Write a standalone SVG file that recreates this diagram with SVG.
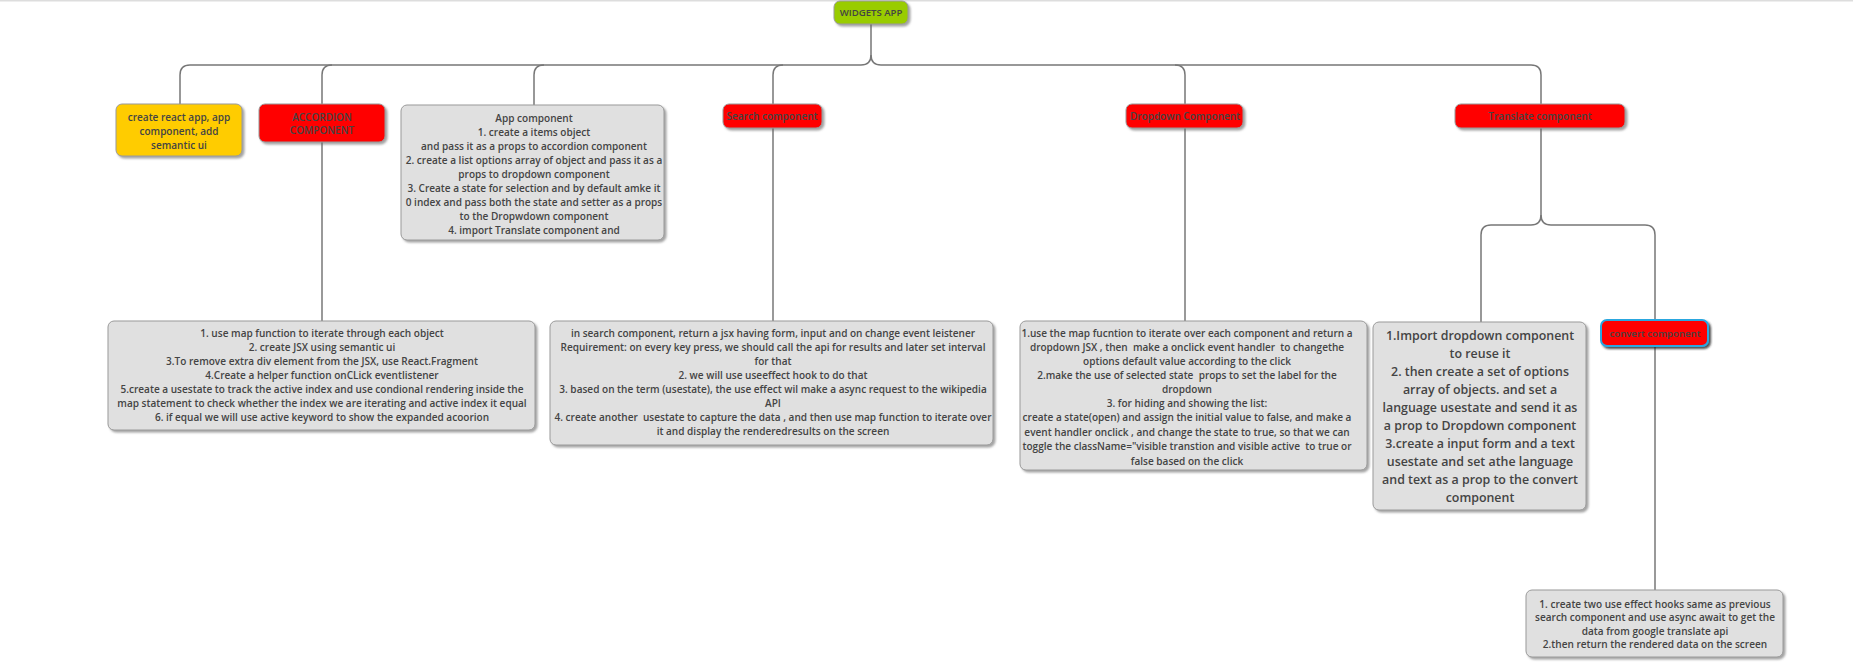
<svg xmlns="http://www.w3.org/2000/svg" width="1853" height="665" viewBox="0 0 1853 665">
<defs>
<filter id="sh" x="-10%" y="-10%" width="130%" height="140%">
<feDropShadow dx="2" dy="2" stdDeviation="1.2" flood-color="#666" flood-opacity="0.6"/>
</filter>
<filter id="sh2" x="-10%" y="-20%" width="130%" height="160%">
<feDropShadow dx="2" dy="2" stdDeviation="1" flood-color="#222" flood-opacity="0.8"/>
</filter>
</defs>
<style>
text{font-family:"Open Sans","Noto Sans","Liberation Sans",sans-serif;font-weight:600;fill:#444;text-anchor:middle;white-space:pre}
.t{font-size:9.6px}
.s{font-size:10.05px}
.m{font-size:10px}
.l{font-size:12.4px}
.box{stroke:#9a9a9a;stroke-width:1}
.g{fill:#e0e0e0}
.r{fill:#ff0000}
.conn path{fill:none;stroke:#777;stroke-width:1.5}
</style>
<rect x="0" y="0" width="1853" height="1.5" fill="#ddd"/>
<g class="conn">
<path d="M871,24 V55 Q871,65 861,65 H190 Q180,65 180,75 V104"/>
<path d="M871,55 Q871,65 881,65 H1531 Q1541,65 1541,75 V104"/>
<path d="M332,65 Q322,65 322,75 V104"/>
<path d="M544,65 Q534,65 534,75 V105"/>
<path d="M783,65 Q773,65 773,75 V104"/>
<path d="M1175,65 Q1185,65 1185,75 V104"/>
<path d="M322,142 V321"/>
<path d="M773,128 V321"/>
<path d="M1185,128 V321"/>
<path d="M1541,128 V215 Q1541,225 1531,225 H1491 Q1481,225 1481,235 V322"/>
<path d="M1541,215 Q1541,225 1551,225 H1645 Q1655,225 1655,235 V320"/>
<path d="M1655,346 V590"/>
</g>
<g id="root">
<rect class="box" x="834" y="1" width="74" height="23" rx="6" fill="#99cc00" filter="url(#sh)"/>
<text class="t" x="871" y="16">WIDGETS APP</text>
</g>
<g id="setup">
<rect class="box" x="116" y="104" width="126" height="52" rx="6" fill="#ffcc00" filter="url(#sh)"/>
<text class="m" x="179" y="121">create react app, app</text>
<text class="m" x="179" y="135">component, add</text>
<text class="m" x="179" y="149">semantic ui</text>
</g>
<g id="accordion">
<rect class="box r" x="259" y="104" width="126" height="38" rx="6" filter="url(#sh)"/>
<text class="m" x="322" y="121">ACCORDION</text>
<text class="m" x="322" y="134">COMPONENT</text>
</g>
<g id="app">
<rect class="box g" x="401" y="105" width="263" height="135" rx="6" filter="url(#sh)"/>
<text class="s" x="534" y="121.5">App component</text>
<text class="s" x="534" y="135.5">1. create a items object</text>
<text class="s" x="534" y="149.5">and pass it as a props to accordion component</text>
<text class="s" x="534" y="163.5">2. create a list options array of object and pass it as a</text>
<text class="s" x="534" y="177.5">props to dropdown component</text>
<text class="s" x="534" y="191.5">3. Create a state for selection and by default amke it</text>
<text class="s" x="534" y="205.5">0 index and pass both the state and setter as a props</text>
<text class="s" x="534" y="219.5">to the Dropwdown component</text>
<text class="s" x="534" y="233.5">4. import Translate component and</text>
</g>
<g id="search">
<rect class="box r" x="723" y="104" width="99" height="24" rx="6" filter="url(#sh)"/>
<text class="s" x="772" y="119.5">Search component</text>
</g>
<g id="dropdown">
<rect class="box r" x="1126" y="104" width="117" height="24" rx="6" filter="url(#sh)"/>
<text class="m" x="1185" y="119.5">Dropdown Component</text>
</g>
<g id="translate">
<rect class="box r" x="1455" y="104" width="170" height="24" rx="6" filter="url(#sh)"/>
<text class="m" x="1540" y="119.5">Translate component</text>
</g>
<g id="accordion-details">
<rect class="box g" x="108" y="321" width="427" height="109" rx="6" filter="url(#sh)"/>
<text class="s" x="322" y="336.5">1. use map function to iterate through each object</text>
<text class="s" x="322" y="350.5">2. create JSX using semantic ui</text>
<text class="s" x="322" y="364.5">3.To remove extra div element from the JSX, use React.Fragment</text>
<text class="s" x="322" y="378.5">4.Create a helper function onCLick eventlistener</text>
<text class="s" x="322" y="392.5">5.create a usestate to track the active index and use condional rendering inside the</text>
<text class="s" x="322" y="406.5">map statement to check whether the index we are iterating and active index it equal</text>
<text class="s" x="322" y="420.5">6. if equal we will use active keyword to show the expanded acoorion</text>
</g>
<g id="search-details">
<rect class="box g" x="550" y="321" width="443" height="124" rx="6" filter="url(#sh)"/>
<text class="s" x="773" y="336.5">in search component, return a jsx having form, input and on change event leistener</text>
<text class="s" x="773" y="350.5">Requirement: on every key press, we should call the api for results and later set interval</text>
<text class="s" x="773" y="364.5">for that</text>
<text class="s" x="773" y="378.5">2. we will use useeffect hook to do that</text>
<text class="s" x="773" y="392.5">3. based on the term (usestate), the use effect wil make a async request to the wikipedia</text>
<text class="s" x="773" y="406.5">API</text>
<text class="s" x="773" y="420.5" xml:space="preserve">4. create another  usestate to capture the data , and then use map function to iterate over</text>
<text class="s" x="773" y="434.5">it and display the renderedresults on the screen</text>
</g>
<g id="dropdown-details">
<rect class="box g" x="1020" y="321" width="347" height="149" rx="6" filter="url(#sh)"/>
<text class="s" x="1187" y="336.5">1.use the map fucntion to iterate over each component and return a</text>
<text class="s" x="1187" y="350.5" xml:space="preserve">dropdown JSX , then  make a onclick event handler  to changethe</text>
<text class="s" x="1187" y="364.5">options default value according to the click</text>
<text class="s" x="1187" y="378.5" xml:space="preserve">2.make the use of selected state  props to set the label for the</text>
<text class="s" x="1187" y="392.5">dropdown</text>
<text class="s" x="1187" y="406.5">3. for hiding and showing the list:</text>
<text class="s" x="1187" y="421">create a state(open) and assign the initial value to false, and make a</text>
<text class="s" x="1187" y="435.5">event handler onclick , and change the state to true, so that we can</text>
<text class="s" x="1187" y="450" xml:space="preserve">toggle the className="visible transtion and visible active  to true or</text>
<text class="s" x="1187" y="464.5">false based on the click</text>
</g>
<g id="translate-details">
<rect class="box g" x="1373" y="322" width="213" height="188" rx="6" filter="url(#sh)"/>
<text class="l" x="1480" y="339.5">1.Import dropdown component</text>
<text class="l" x="1480" y="357.5">to reuse it</text>
<text class="l" x="1480" y="375.5">2. then create a set of options</text>
<text class="l" x="1480" y="393.5">array of objects. and set a</text>
<text class="l" x="1480" y="411.5">language usestate and send it as</text>
<text class="l" x="1480" y="429.5">a prop to Dropdown component</text>
<text class="l" x="1480" y="447.5">3.create a input form and a text</text>
<text class="l" x="1480" y="465.5">usestate and set athe language</text>
<text class="l" x="1480" y="483.5">and text as a prop to the convert</text>
<text class="l" x="1480" y="501.5">component</text>
</g>
<g id="convert">
<rect x="1601" y="320" width="107" height="26" rx="6" class="r" stroke="#2aa7df" stroke-width="2" filter="url(#sh2)"/>
<text class="t" x="1655" y="336.5">convert component</text>
</g>
<g id="convert-details">
<rect class="box g" x="1526" y="590" width="257" height="67" rx="6" filter="url(#sh)"/>
<text class="s" x="1655" y="607.5">1. create two use effect hooks same as previous</text>
<text class="s" x="1655" y="620.5">search component and use async await to get the</text>
<text class="s" x="1655" y="634.5">data from google translate api</text>
<text class="s" x="1655" y="647.5">2.then return the rendered data on the screen</text>
</g>
</svg>
